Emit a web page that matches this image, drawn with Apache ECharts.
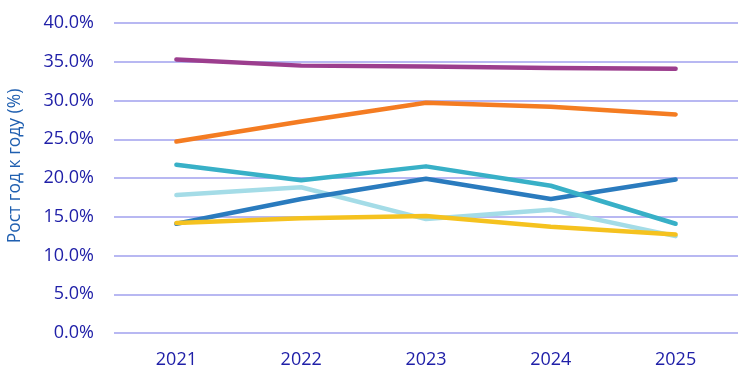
<!DOCTYPE html>
<html><head><meta charset="utf-8">
<script src="https://cdn.jsdelivr.net/npm/echarts@6/dist/echarts.min.js"></script>
<style>html,body{margin:0;padding:0;background:#fff}#c{width:750px;height:381px}</style>
</head><body><div id="c"></div>
<script>
var categories = ['2021','2022','2023','2024','2025'];
var yTicks = [0,5,10,15,20,25,30,35,40];
var lightBlue = [17.8, 18.8, 14.7, 15.9, 12.5];
var darkBlue = [14.1, 17.3, 19.9, 17.3, 19.8];
var teal = [21.7, 19.7, 21.5, 19.0, 14.1];
var yellow = [14.2, 14.8, 15.1, 13.7, 12.7];
var orange = [24.7, 27.3, 29.7, 29.2, 28.2];
var purple = [35.3, 34.5, 34.4, 34.2, 34.1];
var yTitle = 'Рост год к году (%)';

function mk(name, data, color){
  return {name:name, type:'line', data:data, symbol:'none', smooth:false,
    lineStyle:{color:color, width:4.5, cap:'round', join:'round'}, itemStyle:{color:color}};
}
var chart = echarts.init(document.getElementById('c'), null, {renderer:'canvas'});
chart.setOption({
  animation:false,
  grid:{left:114, right:12, top:23, bottom:48, containLabel:false, outerBoundsMode:'none'},
  graphic:[{type:'text', x:15, y:166, rotation:Math.PI/2,
    style:{text:yTitle, fill:'#1F5FB0', fontSize:17.5, fontFamily:'Open Sans',
      align:'center', verticalAlign:'middle'}}],
  xAxis:{type:'category', data:categories, boundaryGap:true,
    axisLine:{show:false}, axisTick:{show:false},
    axisLabel:{color:'#2020A8', fontSize:18, fontFamily:'Open Sans', margin:18}},
  yAxis:{type:'value', min:yTicks[0], max:yTicks[yTicks.length-1], interval:5,
    axisLine:{show:false}, axisTick:{show:false},
    splitLine:{lineStyle:{color:'#B8B8F2', width:2}},
    axisLabel:{color:'#2020A8', fontSize:18, fontFamily:'Open Sans', margin:20,
      formatter:function(v){return v.toFixed(1)+'%';}}},
  series:[
    mk('lb', lightBlue, '#A4DCE7'),
    mk('db', darkBlue, '#2A7BBE'),
    mk('teal', teal, '#38B0C7'),
    mk('yellow', yellow, '#F5C21F'),
    mk('orange', orange, '#F47C22'),
    mk('purple', purple, '#9C3E8E')
  ]
});
</script></body></html>
